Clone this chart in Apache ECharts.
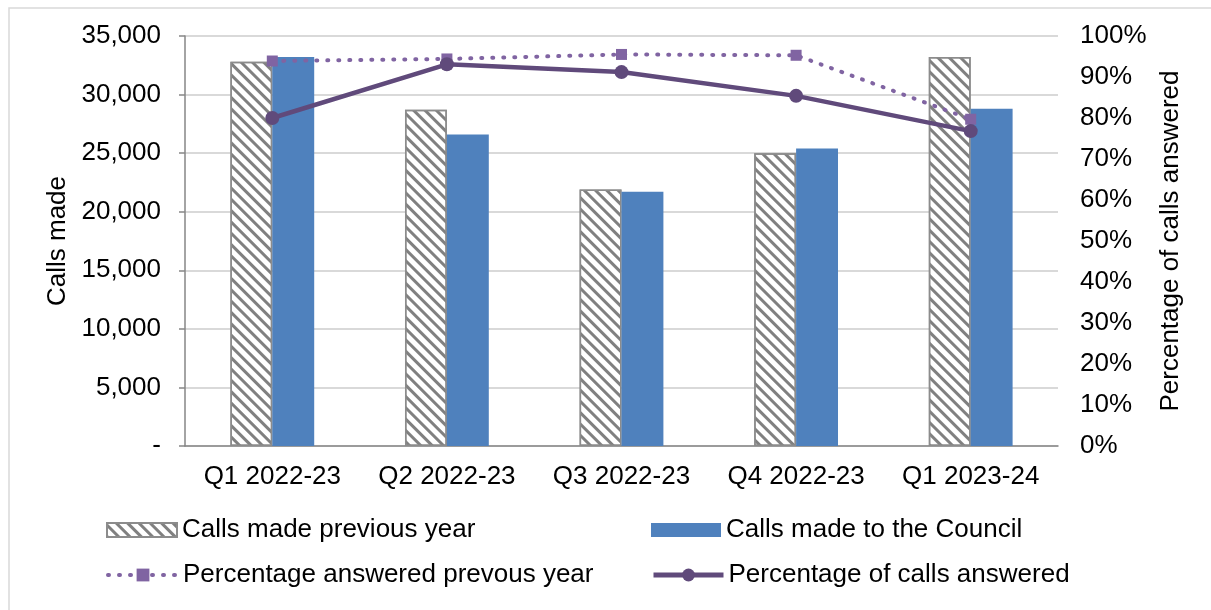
<!DOCTYPE html>
<html>
<head>
<meta charset="utf-8">
<script src="https://cdn.jsdelivr.net/npm/echarts@6/dist/echarts.min.js"></script>
<style>
  html, body { margin: 0; padding: 0; background: #fff; }
  #chart { width: 1211px; height: 610px; }
</style>
</head>
<body>
<div id="chart"></div>
<script>
// categories and values
var categories = ["Q1 2022-23", "Q2 2022-23", "Q3 2022-23", "Q4 2022-23", "Q1 2023-24"];
var callsPrevYear = [32800, 28700, 21900, 25000, 33200];
var callsCouncil = [33200, 26600, 21700, 25400, 28800];
var pctPrevYear = [93.9, 94.4, 95.5, 95.3, 79.7];
var pctAnswered = [80.0, 93.1, 91.2, 85.4, 76.8];

var font = "Liberation Sans";
var fs = 26;
var dots = { width: 4, type: [1, 10], cap: "round" };

var chart = echarts.init(document.getElementById("chart"));

// one legend per item so the 2x2 layout can be placed like the original
function legendAt(name, left, top, icon, lineStyle, h) {
  var lg = {
    data: [{ name: name, icon: icon }],
    left: left,
    top: top,
    itemWidth: 70,
    itemHeight: h || 14,
    itemGap: 10,
    textStyle: { fontFamily: font, fontSize: fs, color: "#000" },
  };
  if (lineStyle) lg.lineStyle = lineStyle;
  return lg;
}

var option = {
  animation: false,
  backgroundColor: "#fff",
  // thin frame round the chart, like the original
  graphic: [
    {
      type: "rect",
      shape: { x: 9, y: 8, width: 1400, height: 800 },
      style: { fill: null, stroke: "#d9d9d9", lineWidth: 1.5 },
      silent: true,
    },
  ],
  grid: { left: 185, right: 153, top: 36, bottom: 164 },
  legend: [
    legendAt("Calls made previous year", 101, 512, "rect"),
    legendAt("Calls made to the Council", 646, 512, "rect"),
    legendAt("Percentage answered prevous year", 101, 557, undefined, dots, 16),
    legendAt("Percentage of calls answered", 646, 557, undefined, { width: 5 }, 16),
  ],
  xAxis: {
    type: "category",
    data: categories,
    axisLine: { lineStyle: { color: "#868686", width: 1.5 } },
    axisTick: { length: 8, lineStyle: { color: "#868686", width: 1.5 } },
    axisLabel: { fontFamily: font, fontSize: fs, color: "#000", margin: 18, interval: 0 },
  },
  yAxis: [
    {
      type: "value",
      min: 0,
      max: 35000,
      interval: 5000,
      name: "Calls made",
      nameLocation: "middle",
      nameRotate: 90,
      nameGap: 114,
      nameTextStyle: { fontFamily: font, fontSize: fs, color: "#000" },
      axisLine: { show: true, lineStyle: { color: "#868686", width: 1.5 } },
      axisTick: { show: true, length: 6, lineStyle: { color: "#868686", width: 1.5 } },
      splitLine: { lineStyle: { color: "#d9d9d9", width: 2 } },
      axisLabel: {
        fontFamily: font,
        fontSize: fs,
        color: "#000",
        margin: 24,
        formatter: function (v) {
          return v === 0 ? "-" : v.toLocaleString("en-GB");
        },
      },
    },
    {
      type: "value",
      min: 0,
      max: 100,
      interval: 10,
      name: "Percentage of calls answered",
      nameLocation: "middle",
      nameRotate: 90,
      nameGap: 98,
      nameTextStyle: { fontFamily: font, fontSize: fs, color: "#000" },
      axisLine: { show: false },
      axisTick: { show: false },
      splitLine: { show: false },
      axisLabel: { fontFamily: font, fontSize: fs, color: "#000", margin: 22, formatter: "{value}%" },
    },
  ],
  series: [
    {
      name: "Calls made previous year",
      type: "bar",
      data: callsPrevYear,
      barGap: "0%",
      barCategoryGap: "52%",
      itemStyle: {
        color: "#ffffff",
        borderColor: "#8c8c8c",
        borderWidth: 1.5,
        decal: {
          symbol: "rect",
          color: "#808080",
          dashArrayX: [1, 0],
          dashArrayY: [3, 5],
          rotation: Math.PI / 4,
        },
      },
    },
    {
      name: "Calls made to the Council",
      type: "bar",
      data: callsCouncil,
      itemStyle: { color: "#4f81bd" },
    },
    {
      name: "Percentage answered prevous year",
      type: "line",
      yAxisIndex: 1,
      data: pctPrevYear,
      symbol: "rect",
      symbolSize: 11,
      itemStyle: { color: "#8064a2" },
      lineStyle: Object.assign({ color: "#8064a2" }, dots),
    },
    {
      name: "Percentage of calls answered",
      type: "line",
      yAxisIndex: 1,
      data: pctAnswered,
      symbol: "circle",
      symbolSize: 14,
      itemStyle: { color: "#604a7b" },
      lineStyle: { color: "#604a7b", width: 4.5 },
    },
  ],
};

option && chart.setOption(option);
</script>
</body>
</html>
